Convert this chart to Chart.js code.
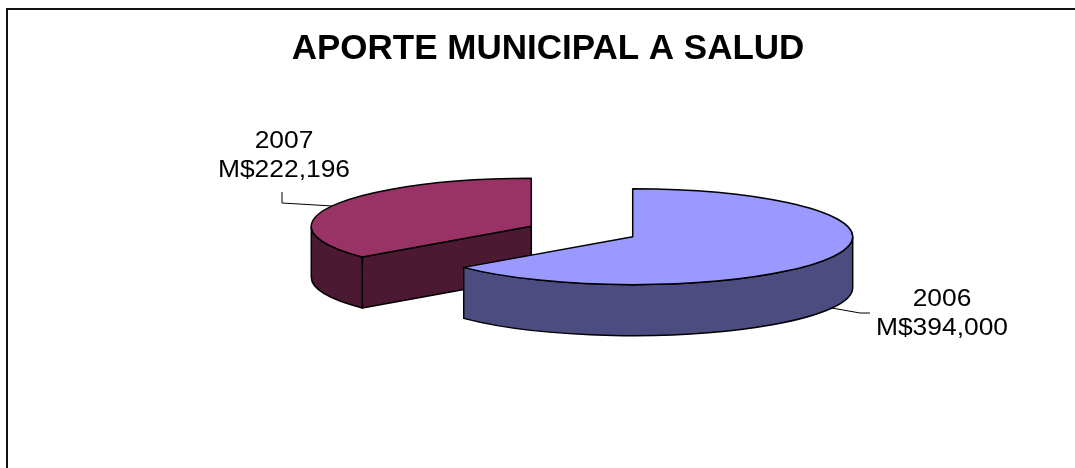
<!DOCTYPE html>
<html lang="es">
<head>
<meta charset="utf-8">
<title>Aporte municipal a salud</title>
<script src="https://cdn.jsdelivr.net/npm/chart.js"></script>
<style>
  html, body { margin: 0; padding: 0; background: #fff; }
  #wrap { width: 1075px; height: 468px; }
</style>
</head>
<body>
<div id="wrap"><canvas id="pie"></canvas></div>
<script>
const years = ["2006", "2007"];
const amounts = [394000, 222196];
const topColors = ["#9999FF", "#993366"];
const sideColors = ["#4C4C80", "#4C1933"];

const TITLE = "APORTE MUNICIPAL A SALUD";
const TILT = 0.218;   // vertical squash of the pie
const DEPTH = 51;     // thickness of the pie in px
// label baselines and leader elbows (screen px)
const labelAt = [{ x: 942, y: 306 }, { x: 284, y: 148 }];
const leaderPts = [
  [{ x: 860, y: 313 }, { x: 870, y: 313 }],
  [{ x: 282, y: 203 }, { x: 282, y: 192 }]
];

const money = v => "M$" + v.toLocaleString("en-US");

function sliceGeom(arc) {
  const R = arc.outerRadius;
  const a0 = arc.startAngle, a1 = arc.endAngle;
  const mid = (a0 + a1) / 2;
  const off = arc.options.offset || 0;
  return {
    R, ry: R * TILT, a0, a1, mid,
    x: arc.x + Math.cos(mid) * off,
    y: arc.y + Math.sin(mid) * off * TILT
  };
}

function paint(ctx, fill) {
  ctx.fillStyle = fill;
  ctx.fill();
  ctx.stroke();
}

function drawSlice(ctx, g, i) {
  const { R, ry, a0, a1, x, y } = g;
  // radial cut faces that look towards the viewer
  const face = a => {
    const px = x + R * Math.cos(a), py = y + ry * Math.sin(a);
    ctx.beginPath();
    ctx.moveTo(x, y);
    ctx.lineTo(px, py);
    ctx.lineTo(px, py + DEPTH);
    ctx.lineTo(x, y + DEPTH);
    ctx.closePath();
    paint(ctx, sideColors[i]);
  };
  if (Math.cos(a0) < -1e-6) face(a0);
  if (Math.cos(a1) > 1e-6) face(a1);

  // front part of the outer wall
  for (const k of [-1, 0, 1]) {
    const lo = Math.max(a0, 2 * Math.PI * k);
    const hi = Math.min(a1, 2 * Math.PI * k + Math.PI);
    if (hi - lo < 1e-6) continue;
    ctx.beginPath();
    ctx.ellipse(x, y, R, ry, 0, lo, hi);
    ctx.lineTo(x + R * Math.cos(hi), y + ry * Math.sin(hi) + DEPTH);
    ctx.ellipse(x, y + DEPTH, R, ry, 0, hi, lo, true);
    ctx.closePath();
    paint(ctx, sideColors[i]);
  }

  // top face
  ctx.beginPath();
  ctx.moveTo(x, y);
  ctx.ellipse(x, y, R, ry, 0, a0, a1);
  ctx.closePath();
  paint(ctx, topColors[i]);
}

const pie3d = {
  id: "pie3d",
  beforeDraw(chart) {
    const ctx = chart.ctx;
    ctx.save();
    ctx.fillStyle = "#fff";
    ctx.fillRect(0, 0, chart.width, chart.height);
    ctx.strokeStyle = "#111";
    ctx.lineWidth = 2;
    ctx.strokeRect(7, 9, chart.width + 20, chart.height + 20);
    ctx.fillStyle = "#000";
    ctx.font = "bold 35px 'Liberation Sans', Arial, sans-serif";
    ctx.textAlign = "center";
    ctx.textBaseline = "alphabetic";
    ctx.fillText(TITLE, 548, 59);
    ctx.restore();
  },
  beforeDatasetsDraw(chart) {
    const ctx = chart.ctx;
    const arcs = chart.getDatasetMeta(0).data;
    const geoms = arcs.map(sliceGeom);
    const order = geoms.map((g, i) => i).sort((a, b) => Math.sin(geoms[a].mid) - Math.sin(geoms[b].mid));

    ctx.save();
    ctx.strokeStyle = "#000";
    ctx.lineWidth = 1.5;
    ctx.lineJoin = "round";
    order.forEach(i => drawSlice(ctx, geoms[i], i));

    // leader lines and labels
    ctx.lineWidth = 1;
    ctx.strokeStyle = "#000";
    geoms.forEach((g, i) => {
      const front = Math.sin(g.mid) > 0;
      const sx = g.x + g.R * Math.cos(g.mid);
      const sy = g.y + g.ry * Math.sin(g.mid) + (front ? DEPTH : 0);
      ctx.beginPath();
      ctx.moveTo(sx, sy);
      leaderPts[i].forEach(p => ctx.lineTo(p.x, p.y));
      ctx.stroke();

      ctx.fillStyle = "#000";
      ctx.font = "24px 'Liberation Sans', Arial, sans-serif";
      ctx.textAlign = "center";
      ctx.textBaseline = "alphabetic";
      [years[i], money(amounts[i])].forEach((t, j) => {
        ctx.save();
        ctx.translate(labelAt[i].x, labelAt[i].y + j * 29);
        ctx.scale(1.1, 1);
        ctx.fillText(t, 0, 0);
        ctx.restore();
      });
    });
    ctx.restore();
    return false;
  }
};

new Chart(document.getElementById("pie"), {
  type: "pie",
  data: {
    labels: years,
    datasets: [{
      data: amounts,
      backgroundColor: topColors,
      offset: 56,
      radius: 220,
      borderWidth: 0
    }]
  },
  options: {
    responsive: true,
    maintainAspectRatio: false,
    animation: false,
    events: [],
    layout: { padding: { left: 100, right: 11, top: 60, bottom: 65 } },
    plugins: {
      legend: { display: false },
      title: { display: false },
      tooltip: { enabled: false }
    }
  },
  plugins: [pie3d]
});
</script>
</body>
</html>
